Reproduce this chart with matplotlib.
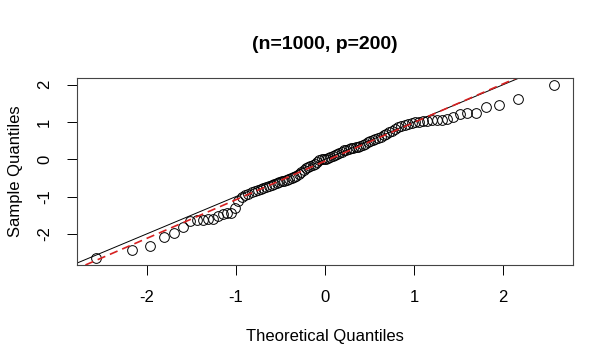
import numpy as np
import matplotlib
matplotlib.use('Agg')
import matplotlib.pyplot as plt

plt.rcParams.update({
    'font.family': 'Liberation Sans',
    'font.size': 11.5,
    'axes.unicode_minus': False,
})

# theoretical normal quantiles (n = 100) read along the x axis
theo_lower = [-2.576, -2.170, -1.960, -1.812, -1.695, -1.598, -1.514, -1.440,
              -1.372, -1.311, -1.254, -1.200, -1.150, -1.103, -1.058, -1.015,
              -0.974, -0.935, -0.896, -0.860, -0.824, -0.789, -0.755, -0.722,
              -0.690, -0.659, -0.628, -0.598, -0.568, -0.539, -0.510, -0.482,
              -0.454, -0.426, -0.399, -0.372, -0.345, -0.319, -0.292, -0.266,
              -0.240, -0.215, -0.189, -0.164, -0.138, -0.113, -0.088, -0.063,
              -0.038, -0.0125]
theo_upper = [0.0125, 0.038, 0.063, 0.088, 0.113, 0.138, 0.164, 0.189,
              0.215, 0.240, 0.266, 0.292, 0.319, 0.345, 0.372, 0.399,
              0.426, 0.454, 0.482, 0.510, 0.539, 0.568, 0.598, 0.628,
              0.659, 0.690, 0.722, 0.755, 0.789, 0.824, 0.860, 0.896,
              0.935, 0.974, 1.015, 1.058, 1.103, 1.150, 1.200, 1.254,
              1.311, 1.372, 1.440, 1.514, 1.598, 1.695, 1.812, 1.960,
              2.170, 2.576]

# sorted sample values
sample_lower = [-2.65, -2.42, -2.33, -2.09, -1.98, -1.81, -1.66, -1.63,
                -1.63, -1.61, -1.59, -1.52, -1.47, -1.45, -1.43, -1.30,
                -1.12, -1.00, -0.97, -0.93, -0.88, -0.85, -0.82, -0.79,
                -0.77, -0.74, -0.71, -0.68, -0.65, -0.63, -0.61, -0.59,
                -0.57, -0.55, -0.52, -0.50, -0.47, -0.44, -0.40, -0.34,
                -0.28, -0.23, -0.20, -0.17, -0.15, -0.12, -0.07, -0.02,
                0.00, 0.01]
sample_upper = [0.02, 0.04, 0.06, 0.09, 0.11, 0.13, 0.16, 0.20,
                0.24, 0.26, 0.28, 0.30, 0.31, 0.33, 0.34, 0.36,
                0.39, 0.42, 0.46, 0.49, 0.52, 0.54, 0.56, 0.59,
                0.64, 0.68, 0.72, 0.76, 0.82, 0.86, 0.89, 0.92,
                0.95, 0.98, 0.99, 1.01, 1.03, 1.04, 1.05, 1.06,
                1.06, 1.08, 1.14, 1.21, 1.23, 1.25, 1.41, 1.47,
                1.63, 1.99]

x = np.array(theo_lower + theo_upper)
y = np.array(sample_lower + sample_upper)

fig = plt.figure(figsize=(6.13, 3.64), dpi=100)
ax = fig.add_axes([0.126, 0.272, 0.808, 0.513])

ax.plot(x, y, linestyle='none', marker='o', markersize=7,
        markerfacecolor='none', markeredgecolor='black', markeredgewidth=0.7)
ax.margins(0.04)

# reference line y = x
ax.axline((0, 0), slope=1, color='black', linewidth=0.7)

# qqline through the quartiles
q1, q3 = np.quantile(y, [0.25, 0.75])
z1, z3 = -0.6745, 0.6745
slope = (q3 - q1) / (z3 - z1)
inter = q1 - slope * z1
ax.axline((0, inter), slope=slope, color='#d62020', linewidth=1.2,
          linestyle=(0, (5, 3)))

ax.set_xticks([-2, -1, 0, 1, 2])
ax.set_yticks([-2, -1, 0, 1, 2])
ax.tick_params(length=7, width=0.7, labelsize=12, pad=11)
for lab in ax.get_yticklabels():
    lab.set_rotation(90)
    lab.set_va('center')
for s in ax.spines.values():
    s.set_linewidth(0.8)
    s.set_color('#444444')

ax.set_xlabel('Theoretical Quantiles', fontsize=12, labelpad=17)
ax.set_ylabel('Sample Quantiles', fontsize=12, labelpad=10)
ax.set_title('(n=1000, p=200)', fontsize=14, fontweight='bold', pad=21)

fig.savefig('out.png', dpi=100)
